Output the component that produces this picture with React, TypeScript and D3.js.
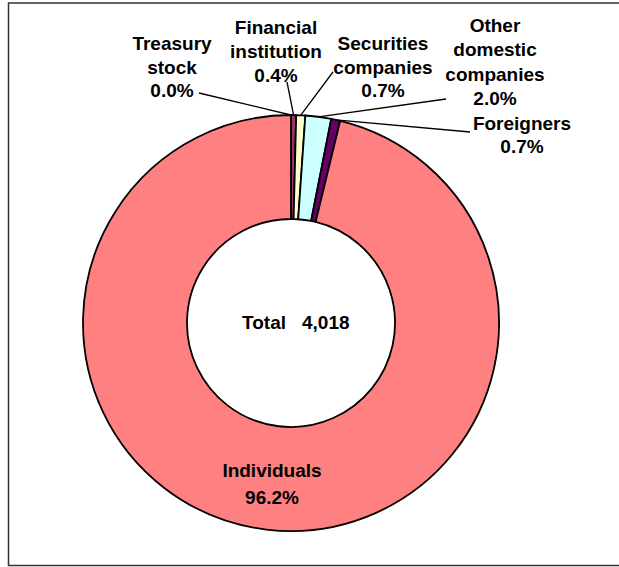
import React from "react";
import * as d3 from "d3";

const categories = [
  "Treasury stock",
  "Financial institution",
  "Securities companies",
  "Other domestic companies",
  "Foreigners",
  "Individuals",
];
const shares = [0.0, 0.4, 0.7, 2.0, 0.7, 96.2];
const labelWords = [
  ["Treasury", "stock"],
  ["Financial", "institution"],
  ["Securities", "companies"],
  ["Other", "domestic", "companies"],
  ["Foreigners"],
  ["Individuals"],
];
const sliceColors = ["#9999FF", "#993366", "#FFFFCC", "#CCFFFF", "#660066", "#FF8080"];
const totalLabel = "Total";
const totalValue = "4,018";

// layout: label anchor (center x, first baseline y, line spacing), leader start
const labelLayout = [
  { x: 172, y: 50, dy: 23.5, lx: 199, ly: 93 },
  { x: 276, y: 34, dy: 24, lx: 287, ly: 82 },
  { x: 383, y: 50, dy: 23.5, lx: 333, ly: 72 },
  { x: 495, y: 32, dy: 24.3, lx: 446, ly: 99 },
  { x: 522, y: 130, dy: 23, lx: 470, ly: 132 },
  { x: 272, y: 477, dy: 27, lx: null, ly: null },
];

const W = 619;
const H = 567;
const cx = 291;
const cy = 323;
const outerR = 208;
const innerR = 104;
const FONT = "'Liberation Sans', Arial, sans-serif";
const FS = 19;

export default function App() {
  const pie = d3
    .pie<number>()
    .sort(null)
    .value((d) => d)
    .startAngle(0)
    .endAngle(2 * Math.PI);
  const arcs = pie(shares);
  const arc = d3.arc<d3.PieArcDatum<number>>().innerRadius(innerR).outerRadius(outerR);
  const edgeArc = d3.arc<d3.PieArcDatum<number>>().innerRadius(outerR).outerRadius(outerR);

  return (
    <svg
      width={W}
      height={H}
      style={{ position: "absolute", left: 0, top: 0, background: "#fff" }}
    >
      <rect x={8.5} y={3} width={W} height={562.5} fill="#fff" stroke="#333" strokeWidth={1.5} />
      <g transform={`translate(${cx},${cy})`}>
        {arcs.map((a, i) => (
          <path
            key={categories[i]}
            d={arc(a) || ""}
            fill={sliceColors[i]}
            stroke="#000"
            strokeWidth={1.8}
            strokeLinejoin="round"
          />
        ))}
      </g>
      {arcs.map((a, i) => {
        const L = labelLayout[i];
        if (L.lx === null) return null;
        const [ex, ey] = edgeArc.centroid(a);
        return (
          <line
            key={"l" + i}
            x1={L.lx}
            y1={L.ly}
            x2={cx + ex}
            y2={cy + ey}
            stroke="#000"
            strokeWidth={1.3}
          />
        );
      })}
      {categories.map((c, i) => {
        const L = labelLayout[i];
        const lines = [...labelWords[i], shares[i].toFixed(1) + "%"];
        return (
          <text
            key={c}
            x={L.x}
            y={L.y}
            textAnchor="middle"
            fontFamily={FONT}
            fontWeight="bold"
            fontSize={FS}
            fill="#000"
          >
            {lines.map((t, j) => (
              <tspan key={j} x={L.x} y={L.y + j * L.dy}>
                {t}
              </tspan>
            ))}
          </text>
        );
      })}
      <text x={242} y={329} fontFamily={FONT} fontWeight="bold" fontSize={FS} fill="#000">
        {totalLabel}
      </text>
      <text x={302} y={329} fontFamily={FONT} fontWeight="bold" fontSize={FS} fill="#000">
        {totalValue}
      </text>
    </svg>
  );
}
